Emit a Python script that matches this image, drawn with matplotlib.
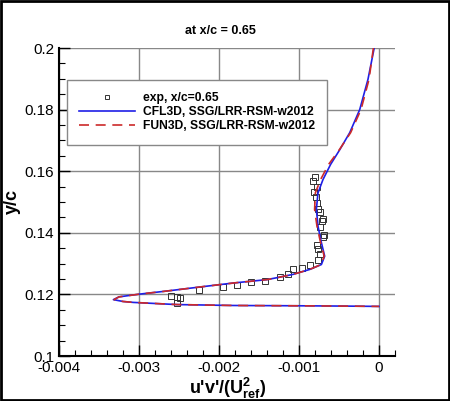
import matplotlib
matplotlib.use("Agg")
import matplotlib.pyplot as plt
from matplotlib.ticker import MultipleLocator

plt.rcParams['font.family'] = ['Liberation Sans', 'DejaVu Sans']
plt.rcParams['mathtext.fontset'] = 'custom'
plt.rcParams['mathtext.rm'] = 'Liberation Sans'
plt.rcParams['mathtext.bf'] = 'Liberation Sans:bold'

# CFL3D, SSG/LRR-RSM-w2012 profile
cfl3d_uv = [-0.00006, -0.000138, -0.000241, -0.000366, -0.00049, -0.000605, -0.0007,
            -0.000762, -0.000783, -0.000762, -0.00072, -0.000679, -0.00072, -0.000866,
            -0.001075, -0.00128, -0.0014, -0.00182, -0.00224, -0.00265, -0.00299,
            -0.00325, -0.00332, -0.00320, -0.00307, -0.00253, -0.00182, -0.00099,
            -0.0004, 0.0]
cfl3d_y = [0.2, 0.1898, 0.1800, 0.1725, 0.1670, 0.1622, 0.1573,
           0.1530, 0.1476, 0.1421, 0.1368, 0.1324, 0.1297, 0.1281,
           0.1265, 0.1254, 0.1248, 0.1237, 0.1224, 0.1211, 0.1201,
           0.1192, 0.1183, 0.1177, 0.1174, 0.1167, 0.1164, 0.1163,
           0.1162, 0.1161]

# FUN3D, SSG/LRR-RSM-w2012 profile
fun3d_uv = [-0.00007, -0.000125, -0.000225, -0.000355, -0.000495, -0.00063, -0.00073,
            -0.000795, -0.000805, -0.000775, -0.00073, -0.000685, -0.000725, -0.000866,
            -0.001075, -0.00128, -0.0014, -0.00182, -0.00224, -0.00265, -0.00299,
            -0.00325, -0.00331, -0.00320, -0.00307, -0.00253, -0.00182, -0.00099,
            -0.0004, 0.0]
fun3d_y = cfl3d_y

# experiment, x/c=0.65
exp_uv = [-0.000804, -0.000829, -0.000779, -0.000816, -0.000791, -0.000779, -0.000766,
          -0.000741, -0.000704, -0.000716, -0.000741, -0.000691, -0.000704, -0.000779,
          -0.000766, -0.000741, -0.000766, -0.000866, -0.000966, -0.00108, -0.00114,
          -0.00124, -0.00142, -0.00160, -0.00177, -0.00195, -0.00225, -0.00249,
          -0.00260, -0.00253, -0.00253]
exp_y = [0.1580, 0.1567, 0.1550, 0.1531, 0.1515, 0.1498, 0.1476,
         0.1466, 0.1446, 0.1437, 0.1420, 0.1394, 0.1385, 0.1362,
         0.1349, 0.1330, 0.1313, 0.1297, 0.1287, 0.1281, 0.1265,
         0.1255, 0.1245, 0.1239, 0.1229, 0.1223, 0.1213, 0.1187,
         0.1195, 0.1190, 0.1172]

fig = plt.figure(figsize=(4.5, 4.01), dpi=100)
ax = fig.add_axes([59/450, 45/401, 336/450, 308/401])

ax.plot(exp_uv, exp_y, 's', mfc='none', mec='#333333', ms=5, mew=0.7,
        label='exp, x/c=0.65')
ax.plot(cfl3d_uv, cfl3d_y, '-', color='#1f1fe6', lw=1.2,
        label='CFL3D, SSG/LRR-RSM-w2012')
ax.plot(fun3d_uv, fun3d_y, '--', color='#cc2a2a', lw=1.2, dashes=(6, 4),
        label='FUN3D, SSG/LRR-RSM-w2012')

ax.set_xlim(-0.004, 0.0002)
ax.set_ylim(0.1, 0.2)
ax.xaxis.set_minor_locator(MultipleLocator(0.0002))
ax.yaxis.set_minor_locator(MultipleLocator(0.005))
ax.set_xticks([-0.004, -0.003, -0.002, -0.001, 0])
ax.set_xticklabels(['-0.004', '-0.003', '-0.002', '-0.001', '0'])
ax.set_yticks([0.1, 0.12, 0.14, 0.16, 0.18, 0.2])
ax.set_yticklabels(['0.1', '0.12', '0.14', '0.16', '0.18', '0.2'])
ax.tick_params(which='major', direction='in', length=8, width=1, labelsize=11)
ax.tick_params(which='minor', direction='in', length=4, width=0.8)
ax.grid(True, which='major', color='#888888', lw=1)
ax.set_axisbelow(True)
for s in ['top', 'right']:
    ax.spines[s].set_visible(False)
ax.spines['left'].set_linewidth(1.5)
ax.spines['bottom'].set_linewidth(1.5)

ax.set_xlabel("u'v'/(U$_{\\mathbf{ref}}^{\\mathbf{2}}$)", fontsize=13, fontweight='bold')
ax.xaxis.set_label_coords((228 - 59)/336, -(376 - 356)/308)
ax.set_ylabel('y/c', fontsize=13, fontweight='bold')
ax.yaxis.set_label_coords((21 - 59)/336, 0.5)
fig.text(220/450, 1 - 31/401, 'at x/c = 0.65', ha='center', va='center',
         fontsize=9, fontweight='bold')

leg = ax.legend(loc='upper left', bbox_to_anchor=((67 - 59)/336, (356 - 80)/308),
                borderaxespad=0, fancybox=False,
                edgecolor='#888888', framealpha=1, handlelength=4.6, handletextpad=0.7,
                prop={'weight': 'bold', 'size': 8.7}, labelspacing=0.18,
                borderpad=1.0, markerscale=0.7)
leg.get_frame().set_linewidth(1)

fig.patches.append(plt.Rectangle((0.002, 0.002), 0.996, 0.996, transform=fig.transFigure,
                                 fill=False, edgecolor='black', lw=2))

fig.savefig('out.png', dpi=100)
